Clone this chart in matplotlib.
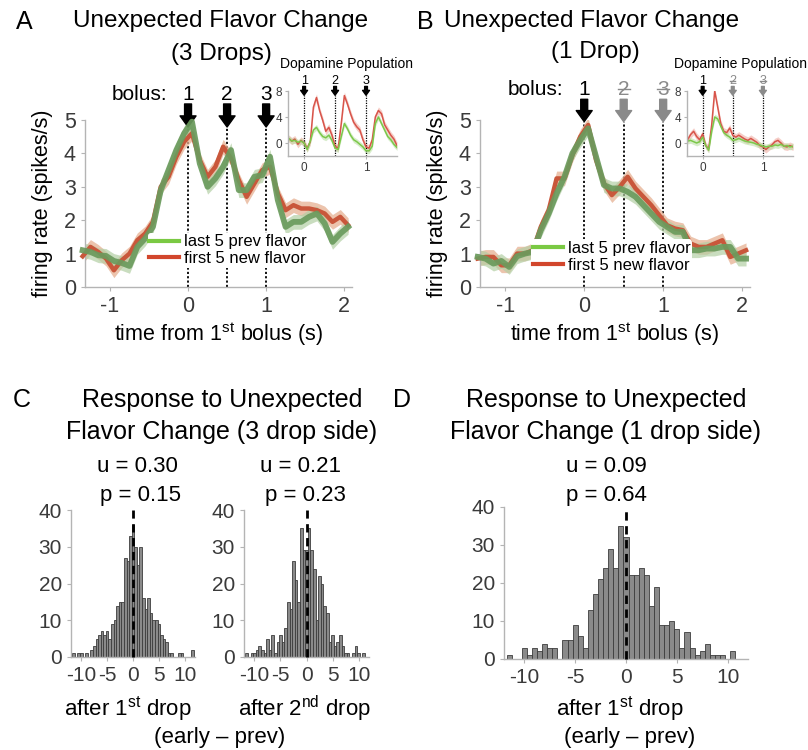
import numpy as np
import matplotlib
matplotlib.use('Agg')
import matplotlib.pyplot as plt
from matplotlib.lines import Line2D

plt.rcParams['font.family'] = ['Liberation Sans', 'DejaVu Sans']
plt.rcParams['mathtext.fontset'] = 'custom'
plt.rcParams['mathtext.rm'] = 'Liberation Sans'
plt.rcParams['axes.unicode_minus'] = False

# ---------------- data ----------------
time_main = np.round(np.arange(-1.35, 2.06, 0.1), 2)
a_green = [1.1, 1.05, 0.95, 0.93, 0.78, 0.72, 0.63, 1.2, 1.45, 1.8, 2.9, 3.5, 4.1, 4.6,
           4.95, 3.7, 3.0, 3.25, 3.6, 4.1, 2.9, 2.9, 3.3, 3.35, 3.9, 2.6, 1.8, 1.95, 1.95,
           2.1, 2.2, 1.9, 1.35, 1.6, 1.8]
a_red = [0.92, 1.2, 1.05, 0.85, 0.5, 0.8, 1.0, 1.4, 1.6, 1.95, 3.0, 3.3, 3.9, 4.35,
         4.6, 3.8, 3.3, 3.6, 4.2, 3.85, 3.2, 2.7, 3.1, 3.5, 3.6, 2.8, 2.3, 2.45, 2.35,
         2.35, 2.3, 2.2, 1.95, 2.1, 1.85]
b_green = [0.9, 0.85, 0.7, 0.78, 0.6, 0.92, 1.0, 1.05, 1.7, 2.2, 2.8, 3.3, 4.0, 4.4,
           4.75, 3.9, 3.05, 2.95, 2.95, 2.85, 2.7, 2.45, 2.2, 1.95, 1.8, 1.65, 1.65, 1.1,
           1.1, 1.15, 1.15, 1.2, 1.2, 0.85, 0.85]
b_red = [0.85, 0.9, 0.9, 0.65, 0.65, 1.0, 1.0, 1.1, 1.8, 2.3, 3.25, 3.25, 3.95, 4.5,
         4.85, 3.8, 3.1, 2.75, 3.0, 3.3, 2.95, 2.7, 2.45, 2.15, 1.85, 1.75, 1.7, 1.3,
         1.2, 1.2, 1.3, 1.4, 0.9, 1.0, 1.1]
band_green = 0.22
band_red = 0.22

time_inset = np.round(np.arange(-0.25, 1.51, 0.05), 2)
ia_red = [0.7, 0.3, 0.6, -0.2, 0.4, 0.0, -0.8, 0.2, 5.5, 7.0, 5.0, 3.5, 1.8, 2.4, 1.2, -0.5,
          -0.8, 3.0, 7.3, 6.0, 4.5, 3.2, 2.5, 2.0, 0.5, -0.6, -0.8, 0.5, 4.0, 5.0, 4.5, 2.8,
          2.0, 1.2, 0.6, -0.4]
ia_green = [0.7, 0.3, 0.4, 0.1, 0.3, 0.0, -1.0, 0.3, 2.0, 2.4, 1.6, 1.0, 0.8, 1.2, 0.4, -0.8,
            -1.0, 1.0, 3.0, 2.2, 1.2, 0.5, 0.2, -0.2, -0.6, -1.2, -1.2, -0.5, 3.0, 4.0, 3.0,
            2.0, 1.0, 0.5, -0.2, -0.7]
ib_red = [0.5, 1.3, 1.8, 1.0, 0.5, 1.4, -0.4, -0.9, 2.8, 8.0, 5.5, 3.0, 1.8, 1.6, 2.3, 1.2,
          0.9, 1.2, 0.9, 0.6, 0.4, 0.7, 0.4, 0.1, -0.4, -0.6, -1.0, -0.6, -0.3, 0.2, 0.4, 0.0,
          -0.5, -0.6, -0.4, -0.6]
ib_green = [0.3, 0.4, 0.2, 0.0, 0.2, 0.9, -0.4, -1.1, 1.8, 4.0, 3.7, 2.6, 1.6, 1.2, 0.9, 0.4,
            0.5, 0.7, 0.5, 0.3, 0.2, 0.1, 0.0, -0.2, -0.3, -0.5, -0.6, -0.5, -0.5, -0.3, -0.4,
            -0.2, -0.5, -0.4, -0.6, -0.5]

bolus_times = [0, 0.5, 1]
bolus_labels = ['1', '2', '3']

hist_centers = np.round(np.arange(-11.5, 11.51, 0.5), 1)
c1_counts = [1, 0, 1, 1, 0, 1, 0, 2, 3, 5, 6, 7, 6, 7, 5, 9, 10, 14, 15, 15, 27, 26, 33, 36,
             30, 25, 30, 16, 13, 16, 12, 10, 10, 9, 6, 5, 4, 1, 1, 0, 0, 1, 1, 0, 0, 0, 2]
c2_counts = [1, 0, 1, 1, 2, 3, 2, 1, 5, 2, 6, 1, 4, 6, 4, 8, 15, 13, 26, 21, 15, 35, 29, 29,
             35, 29, 24, 10, 22, 20, 14, 12, 4, 6, 3, 4, 6, 3, 1, 1, 0, 1, 3, 1, 0, 1, 0]
d_counts = [1, 0, 0, 3, 1, 3, 2, 4, 3, 3, 0, 5, 5, 9, 6, 3, 13, 17, 21, 24, 29, 24, 35, 32,
            22, 22, 24, 22, 14, 19, 9, 9, 10, 8, 3, 7, 3, 1, 2, 4, 1, 1, 1, 0, 2, 0, 0]

# ---------------- figure ----------------
W, H = 808, 750
fig = plt.figure(figsize=(W / 100, H / 100), dpi=100)


def ax_px(left, top, width, height):
    return fig.add_axes([left / W, 1 - (top + height) / H, width / W, height / H])


def ftext(x, y, s, **kw):
    fig.text(x / W, 1 - y / H, s, ha=kw.pop('ha', 'center'), va=kw.pop('va', 'center'), **kw)


SPINE = '#b4b4b4'
TICKC = '#3a3a3a'
GRAY = '#8a8a8a'


def style(ax, size):
    for s in ['top', 'right']:
        ax.spines[s].set_visible(False)
    for s in ['left', 'bottom']:
        ax.spines[s].set_color(SPINE)
        ax.spines[s].set_linewidth(1.0)
    ax.tick_params(direction='out', length=3, color=SPINE, labelcolor=TICKC, labelsize=size)


def number_label(ax, x, y, lab, c, size, strike_half):
    ax.text(x, y, lab, ha='center', va='center', fontsize=size, color=c, clip_on=False)
    if c != 'black':
        ax.plot([x - strike_half, x + strike_half], [y, y], color=c, lw=1.0, clip_on=False)


def main_panel(ax, g, r, arrow_cols, arrow_y, leg_anchor):
    g = np.array(g)
    r = np.array(r)
    ax.fill_between(time_main, r - band_red, r + band_red, color='#e6b092', alpha=0.75, lw=0, zorder=2)
    ax.fill_between(time_main, g - band_green, g + band_green, color='#b3cfa4', alpha=0.7, lw=0, zorder=2)
    ax.plot(time_main, r, color='#c9573b', lw=3.2, zorder=3, clip_on=False)
    ax.plot(time_main, g, color='#6b9b5d', lw=4.2, alpha=0.92, zorder=4, clip_on=False)
    tip, tail, num = arrow_y
    for x in bolus_times:
        ax.plot([x, x], [0, tip], ls=(0, (1.2, 1.2)), color='black', lw=1.3, zorder=1, clip_on=False)
    ax.set_xlim(-1.32, 2.1)
    ax.set_ylim(0, 5)
    ax.set_xticks([-1, 0, 1, 2])
    ax.set_yticks([0, 1, 2, 3, 4, 5])
    style(ax, 15.5)
    ax.set_ylabel('firing rate (spikes/s)', fontsize=15.5, labelpad=8)
    ax.set_xlabel('time from 1$^{\\mathrm{st}}$ bolus (s)', fontsize=15.5, labelpad=2)
    for x, lab, c in zip(bolus_times, bolus_labels, arrow_cols):
        ax.annotate('', xy=(x, tip), xytext=(x, tail), xycoords='data', annotation_clip=False,
                    arrowprops=dict(arrowstyle='simple,head_width=1.15,head_length=0.8,tail_width=0.5',
                                    mutation_scale=10, color=c, shrinkA=0, shrinkB=0))
        number_label(ax, x, num, lab, c, 15, 0.075)
    ax.text(-0.27, num, 'bolus:', ha='right', va='center', fontsize=15, clip_on=False)
    handles = [Line2D([], [], color='#7ac943', lw=3), Line2D([], [], color='#d2462c', lw=3)]
    leg = ax.legend(handles, ['last 5 prev flavor', 'first 5 new flavor'], fontsize=12,
                    frameon=True, handlelength=1.8, handletextpad=0.3, labelspacing=0.1,
                    borderpad=0.1, borderaxespad=0, loc='upper left',
                    bbox_to_anchor=leg_anchor)
    leg.get_frame().set_facecolor('white')
    leg.get_frame().set_edgecolor('none')
    leg.get_frame().set_alpha(1)


def inset(ax, r, g, arrow_cols):
    r = np.array(r)
    g = np.array(g)
    ax.fill_between(time_inset, r - 0.55, r + 0.55, color='#eea79c', alpha=0.55, lw=0)
    ax.fill_between(time_inset, g - 0.45, g + 0.45, color='#b7dea0', alpha=0.55, lw=0)
    ax.plot(time_inset, r, color='#d8544a', lw=1.1)
    ax.plot(time_inset, g, color='#7cc84a', lw=1.1)
    for x in bolus_times:
        ax.plot([x, x], [-2, 7.4], ls=(0, (1, 1)), color='black', lw=0.9, zorder=1, clip_on=False)
    for x, lab, c in zip(bolus_times, bolus_labels, arrow_cols):
        ax.annotate('', xy=(x, 7.35), xytext=(x, 8.7), xycoords='data', annotation_clip=False,
                    arrowprops=dict(arrowstyle='simple,head_width=1.0,head_length=0.7,tail_width=0.4',
                                    mutation_scale=5, color=c, shrinkA=0, shrinkB=0))
        number_label(ax, x, 9.5, lab, c, 9, 0.045)
    ax.set_xlim(-0.26, 1.5)
    ax.set_ylim(-2, 8)
    ax.set_yticks([0, 4, 8])
    ax.set_xticks([0, 1])
    style(ax, 8.5)
    ax.tick_params(length=2, pad=2)


def hist_panel(ax, counts, top_dash):
    ax.bar(hist_centers, counts, width=0.5, color='#8a8a8a', edgecolor='#3c3c3c', linewidth=0.6, zorder=2)
    ax.plot([0, 0], [0, top_dash], ls=(0, (3, 2)), color='black', lw=2, zorder=3, clip_on=False)
    ax.set_xlim(-12, 12)
    ax.set_ylim(0, 40)
    ax.set_xticks([-10, -5, 0, 5, 10])
    ax.set_yticks([0, 10, 20, 30, 40])
    style(ax, 15)


# Panel A
axA = ax_px(85, 120, 267, 167)
main_panel(axA, a_green, a_red, ['black'] * 3, (4.79, 5.48, 5.76), (0.235, 0.325))
# Panel B
axB = ax_px(480, 120, 270, 167)
main_panel(axB, b_green, b_red, ['black', GRAY, GRAY], (4.95, 5.62, 5.92), (0.19, 0.285))

# insets
axAi = ax_px(288, 91, 109, 65)
inset(axAi, ia_red, ia_green, ['black'] * 3)
axBi = ax_px(687, 91, 106, 65)
inset(axBi, ib_red, ib_green, ['black', GRAY, GRAY])

# titles top
ftext(24, 22, 'A', fontsize=18)
ftext(425, 22, 'B', fontsize=18)
ftext(221, 21, 'Unexpected Flavor Change', fontsize=17.5)
ftext(221, 54, '(3 Drops)', fontsize=17.5)
ftext(592, 21, 'Unexpected Flavor Change', fontsize=17.5)
ftext(595, 52, '(1 Drop)', fontsize=17.5)
ftext(346, 64, 'Dopamine Population', fontsize=10)
ftext(741, 64, 'Dopamine Population', fontsize=10)

# Panel C / D histograms
axC1 = ax_px(71, 510, 124, 147)
hist_panel(axC1, c1_counts, 40)
axC2 = ax_px(244, 510, 125, 147)
hist_panel(axC2, c2_counts, 40)
axD = ax_px(504, 507, 244, 152)
hist_panel(axD, d_counts, 39.3)

ftext(22, 400, 'C', fontsize=18)
ftext(402, 400, 'D', fontsize=18)
ftext(222, 400, 'Response to Unexpected', fontsize=18)
ftext(222, 432, 'Flavor Change (3 drop side)', fontsize=18)
ftext(606, 400, 'Response to Unexpected', fontsize=18)
ftext(606, 432, 'Flavor Change (1 drop side)', fontsize=18)
ftext(137, 467, 'u = 0.30', fontsize=16)
ftext(141, 495, 'p = 0.15', fontsize=16)
ftext(300, 467, 'u = 0.21', fontsize=16)
ftext(305, 495, 'p = 0.23', fontsize=16)
ftext(606, 467, 'u = 0.09', fontsize=16)
ftext(606, 495, 'p = 0.64', fontsize=16)
ftext(128, 709, 'after 1$^{\\mathrm{st}}$ drop', fontsize=16)
ftext(304, 709, 'after 2$^{\\mathrm{nd}}$ drop', fontsize=16)
ftext(220, 737, '(early \u2013 prev)', fontsize=16)
ftext(620, 709, 'after 1$^{\\mathrm{st}}$ drop', fontsize=16)
ftext(630, 737, '(early \u2013 prev)', fontsize=16)

fig.savefig('out.png', dpi=100, facecolor='white')
